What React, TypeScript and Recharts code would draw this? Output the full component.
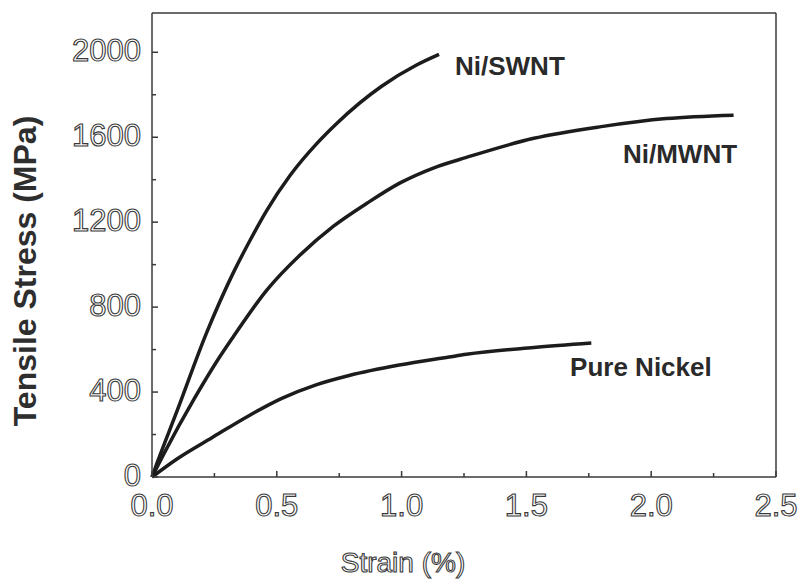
import React from 'react'
import { LineChart, Line, XAxis, YAxis, ReferenceDot, ReferenceLine } from 'recharts'

// strain (%) / tensile stress (MPa)
const swntStrain = [0, 0.02, 0.1, 0.219, 0.325, 0.393, 0.46, 0.553, 0.66, 0.74, 0.92, 1.06, 1.15]
const swntStress = [0, 65, 310, 680, 960, 1115, 1256, 1420, 1570, 1665, 1840, 1940, 1990]

const mwntStrain = [0, 0.05, 0.17, 0.26, 0.325, 0.46, 0.593, 0.726, 0.861, 0.994, 1.127, 1.26, 1.53, 1.8, 2.06, 2.33]
const mwntStress = [0, 115, 370, 545, 659, 880, 1045, 1180, 1289, 1385, 1455, 1505, 1595, 1650, 1688, 1704]

const nickelStrain = [0, 0.1, 0.24, 0.39, 0.52, 0.66, 0.79, 0.99, 1.19, 1.26, 1.53, 1.76]
const nickelStress = [0, 85, 185, 290, 370, 435, 478, 527, 565, 578, 610, 631]

const xTicks = [0, 0.25, 0.5, 0.75, 1, 1.25, 1.5, 1.75, 2, 2.25, 2.5]
const yTicks = [0, 200, 400, 600, 800, 1000, 1200, 1400, 1600, 1800, 2000]

// curve names and where they sit (strain, stress at text baseline start)
const curveLabels = ['Ni/SWNT', 'Ni/MWNT', 'Pure Nickel']
const labelStrain = [1.214, 1.887, 1.675]
const labelStress = [1892, 1478, 475]

const X_MAX = 2.5
const Y_MAX = 2185

const toPoints = (xs: number[], ys: number[]) => xs.map((x, i) => ({ x, y: ys[i] }))

const swnt = toPoints(swntStrain, swntStress)
const mwnt = toPoints(mwntStrain, mwntStress)
const nickel = toPoints(nickelStrain, nickelStress)

const FONT = '"Liberation Sans", Arial, sans-serif'
const AXIS = '#3a3a3a'
const CURVE = '#1c1c1c'

const isMajorX = (v: number) => Math.abs(v * 2 - Math.round(v * 2)) < 1e-6
const isMajorY = (v: number) => v % 400 === 0

const outlineText = { fill: '#fff', stroke: '#3a3a3a', strokeWidth: 1.1, fontFamily: FONT }

function XTick(props: any) {
  const { x, y, payload } = props
  const major = isMajorX(payload.value)
  return (
    <g>
      <line x1={x} x2={x} y1={y} y2={y - (major ? 6 : 4)} stroke={AXIS} strokeWidth={1.5} />
      {major && (
        <text x={x} y={y + 39} textAnchor="middle" fontSize={31} {...outlineText}>
          {payload.value.toFixed(1)}
        </text>
      )}
    </g>
  )
}

function YTick(props: any) {
  const { x, y, payload } = props
  const major = isMajorY(payload.value)
  return (
    <g>
      <line x1={x} x2={x + (major ? 6 : 4)} y1={y} y2={y} stroke={AXIS} strokeWidth={1.5} />
      {major && (
        <text x={x - 11} y={y + 9} textAnchor="end" fontSize={31} {...outlineText}>
          {payload.value}
        </text>
      )}
    </g>
  )
}

function XLabel(props: any) {
  const vb = props.viewBox
  return (
    <text x={vb.x + vb.width / 2 - 61} y={vb.y + 95} textAnchor="middle" fontSize={28} {...outlineText}>
      Strain (%)
    </text>
  )
}

function YLabel(props: any) {
  const vb = props.viewBox
  const cx = 25
  const cy = vb.y + vb.height / 2 + 26
  return (
    <text
      x={cx}
      y={cy}
      transform={`rotate(-90 ${cx} ${cy})`}
      textAnchor="middle"
      dominantBaseline="central"
      fontSize={32}
      fontWeight="bold"
      fill="#2e2e2e"
      fontFamily={FONT}
    >
      Tensile Stress (MPa)
    </text>
  )
}

export default function App() {
  return (
    <div style={{ position: 'absolute', left: 0, top: 0, width: 802, height: 584, background: '#fff' }}>
      <LineChart width={802} height={584} margin={{ top: 13, right: 26, bottom: 0, left: 0 }}>
        <XAxis
          type="number"
          dataKey="x"
          domain={[0, X_MAX]}
          ticks={xTicks}
          interval={0}
          height={107}
          tickSize={0}
          tickMargin={0}
          tickLine={false}
          tick={<XTick />}
          axisLine={{ stroke: AXIS, strokeWidth: 1.5 }}
          label={(p: any) => <XLabel {...p} />}
        />
        <YAxis
          type="number"
          domain={[0, Y_MAX]}
          ticks={yTicks}
          interval={0}
          width={152}
          tickSize={0}
          tickMargin={0}
          tickLine={false}
          tick={<YTick />}
          axisLine={{ stroke: AXIS, strokeWidth: 1.5 }}
          label={(p: any) => <YLabel {...p} />}
        />
        {/* top and right frame */}
        <ReferenceLine y={Y_MAX} stroke={AXIS} strokeWidth={1.5} />
        <ReferenceLine x={X_MAX} stroke={AXIS} strokeWidth={1.5} />
        <Line data={swnt} dataKey="y" type="monotone" stroke={CURVE} strokeWidth={3.5} dot={false} isAnimationActive={false} />
        <Line data={mwnt} dataKey="y" type="monotone" stroke={CURVE} strokeWidth={3.5} dot={false} isAnimationActive={false} />
        <Line data={nickel} dataKey="y" type="monotone" stroke={CURVE} strokeWidth={3.5} dot={false} isAnimationActive={false} />
        {curveLabels.map((name, i) => (
          <ReferenceDot
            key={name}
            x={labelStrain[i]}
            y={labelStress[i]}
            r={0}
            shape={(p: any) => (
              <text x={p.cx} y={p.cy} fontSize={26} fontWeight="bold" fill="#2a2a2a" fontFamily={FONT}>
                {name}
              </text>
            )}
          />
        ))}
      </LineChart>
    </div>
  )
}
